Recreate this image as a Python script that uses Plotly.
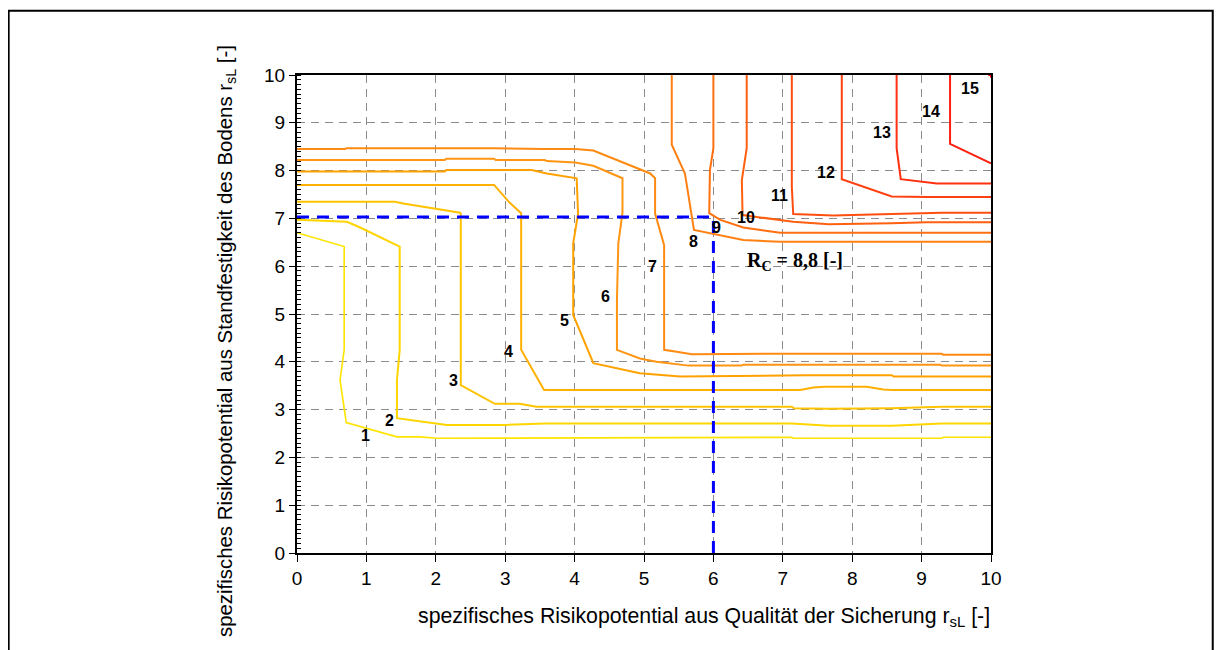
import plotly.graph_objects as go

# ---------------- data ----------------
levels = [1, 2, 3, 4, 5, 6, 7, 8, 9, 10, 11, 12, 13, 14, 15]
level_colors = ["#FFE400", "#FFD500", "#FFC300", "#FFB000", "#FFA200", "#FF9512",
                "#FF8A12", "#FF8012", "#FF7010", "#FF6010", "#FF4E10", "#FF4010",
                "#FF3010", "#FF2010", "#FF1000"]

c1_x = [0.0, 0.68, 0.68, 0.68, 0.62, 0.71, 1.44, 1.78, 2.01, 3.57, 7.13, 7.15, 9.29, 9.31, 10.0]
c1_y = [6.70, 6.41, 5.29, 4.25, 3.62, 2.73, 2.43, 2.43, 2.40, 2.41, 2.42, 2.40, 2.40, 2.42, 2.42]

c2_x = [0.0, 0.72, 0.91, 1.48, 1.48, 1.44, 1.44, 2.16, 3.02, 3.57, 7.13, 7.66, 8.57, 9.29, 10.0]
c2_y = [6.97, 6.93, 6.81, 6.41, 4.25, 3.62, 2.82, 2.68, 2.68, 2.71, 2.71, 2.66, 2.66, 2.71, 2.71]

c3_x = [0.0, 1.41, 1.53, 2.35, 2.36, 2.36, 2.85, 3.21, 3.45, 7.13, 7.16, 7.66, 8.57, 9.29, 10.0]
c3_y = [7.35, 7.35, 7.31, 7.12, 7.10, 3.51, 3.12, 3.12, 3.06, 3.06, 3.03, 3.02, 3.03, 3.06, 3.06]

c4_x = [0.0, 2.84, 3.05, 3.23, 3.23, 3.56, 7.25, 7.44, 7.60, 8.21, 8.45, 8.57, 10.0]
c4_y = [7.70, 7.70, 7.35, 7.11, 4.25, 3.41, 3.41, 3.46, 3.48, 3.48, 3.42, 3.41, 3.41]

c5_x = [0.0, 2.13, 2.15, 3.38, 3.60, 4.03, 4.05, 3.98, 3.98, 3.98, 4.27, 4.94, 5.52, 7.34, 8.57, 8.60, 10.0]
c5_y = [7.98, 7.98, 8.01, 8.01, 7.94, 7.84, 7.10, 6.48, 5.29, 4.98, 3.97, 3.76, 3.69, 3.72, 3.72, 3.69, 3.69]

c6_x = [0.0, 2.13, 2.15, 2.84, 2.86, 3.57, 3.60, 4.01, 4.27, 4.69, 4.69, 4.63, 4.61, 4.61, 4.94, 5.18, 5.64, 6.41, 6.43, 9.27, 9.29, 10.0]
c6_y = [8.22, 8.22, 8.25, 8.25, 8.22, 8.22, 8.20, 8.17, 8.10, 7.84, 7.12, 6.48, 5.29, 4.25, 4.07, 4.00, 3.92, 3.92, 3.94, 3.94, 3.92, 3.92]

c7_x = [0.0, 0.69, 0.71, 2.82, 3.57, 4.01, 4.27, 5.09, 5.16, 5.16, 5.29, 5.29, 5.29, 5.47, 5.69, 7.13, 9.29, 9.31, 10.0]
c7_y = [8.45, 8.45, 8.47, 8.47, 8.45, 8.45, 8.42, 7.94, 7.84, 7.10, 6.44, 5.29, 4.25, 4.21, 4.16, 4.17, 4.17, 4.15, 4.15]

c8_x = [5.40, 5.40, 5.59, 5.69, 5.72, 6.43, 6.96, 10.0]
c8_y = [10.0, 8.54, 7.94, 6.97, 6.76, 6.55, 6.51, 6.51]

c9_x = [6.00, 6.00, 5.95, 5.94, 6.10, 6.43, 6.96, 10.0]
c9_y = [10.0, 8.47, 8.01, 7.11, 6.97, 6.81, 6.70, 6.70]

c10_x = [6.48, 6.48, 6.41, 6.42, 7.15, 7.66, 8.57, 9.07, 10.0]
c10_y = [10.0, 8.47, 7.80, 7.07, 6.93, 6.88, 6.90, 6.92, 6.92]

c11_x = [7.13, 7.13, 7.15, 7.73, 8.00, 8.57, 9.29, 10.0]
c11_y = [10.0, 7.66, 7.09, 7.06, 7.07, 7.09, 7.12, 7.12]

c12_x = [7.85, 7.85, 8.57, 9.10, 10.0]
c12_y = [10.0, 7.82, 7.46, 7.45, 7.45]

c13_x = [8.64, 8.64, 8.70, 9.22, 10.0]
c13_y = [10.0, 8.47, 7.82, 7.73, 7.73]

c14_x = [9.41, 9.41, 10.0]
c14_y = [10.0, 8.56, 8.15]

c15_x = [9.96, 10.0, 10.0]
c15_y = [10.0, 10.0, 9.94]

contour_x = [c1_x, c2_x, c3_x, c4_x, c5_x, c6_x, c7_x, c8_x, c9_x, c10_x, c11_x, c12_x, c13_x, c14_x, c15_x]
contour_y = [c1_y, c2_y, c3_y, c4_y, c5_y, c6_y, c7_y, c8_y, c9_y, c10_y, c11_y, c12_y, c13_y, c14_y, c15_y]

label_x = [0.98, 1.33, 2.25, 3.05, 3.86, 4.44, 5.12, 5.71, 6.04, 6.47, 6.95, 7.62, 8.43, 9.14, 9.70]
label_y = [2.45, 2.78, 3.60, 4.21, 4.87, 5.36, 6.00, 6.51, 6.80, 7.01, 7.47, 7.97, 8.79, 9.23, 9.71]

rc_point_x = 6.0
rc_point_y = 7.03
rc_text = "R<sub>C</sub> = 8,8 [-]"
rc_text_x = 6.46
rc_text_y = 6.10

tick_vals = [0, 1, 2, 3, 4, 5, 6, 7, 8, 9, 10]
x_title = "spezifisches Risikopotential aus Qualität der Sicherung r<sub>sL</sub> [-]"
y_title = "spezifisches Risikopotential aus Standfestigkeit des Bodens r<sub>sL</sub> [-]"

# ---------------- figure ----------------
FONT = "Arial, Liberation Sans, sans-serif"
fig = go.Figure()

for lv, col, xs, ys in zip(levels, level_colors, contour_x, contour_y):
    fig.add_trace(go.Scatter(x=xs, y=ys, mode="lines",
                             line=dict(color=col, width=2 if lv > 1 else 1.6),
                             hoverinfo="skip", showlegend=False))

# reading lines for R_C
fig.add_trace(go.Scatter(x=[0, rc_point_x], y=[rc_point_y, rc_point_y], mode="lines",
                         line=dict(color="#0000FF", width=3, dash="12px,8px"),
                         showlegend=False, hoverinfo="skip"))
fig.add_trace(go.Scatter(x=[rc_point_x, rc_point_x], y=[0, rc_point_y], mode="lines",
                         line=dict(color="#0000FF", width=3, dash="12px,8px"),
                         showlegend=False, hoverinfo="skip"))

for lv, lx, ly in zip(levels, label_x, label_y):
    fig.add_annotation(x=lx, y=ly, text="<b>%d</b>" % lv, showarrow=False,
                       font=dict(family=FONT, size=16, color="black"),
                       xanchor="center", yanchor="middle")

fig.add_annotation(x=rc_text_x, y=rc_text_y, text="<b>" + rc_text + "</b>", showarrow=False,
                   font=dict(family="Times New Roman, Liberation Serif, serif", size=20, color="black"),
                   xanchor="left", yanchor="middle")

# axis titles (placed as in the reference)
fig.add_annotation(xref="paper", yref="paper", x=0.587, y=-0.134, text=x_title,
                   showarrow=False, xanchor="center", yanchor="middle",
                   font=dict(family=FONT, size=21.3, color="black"))
fig.add_annotation(xref="paper", yref="paper", x=-0.1023, y=0.4435, text=y_title,
                   showarrow=False, xanchor="center", yanchor="middle", textangle=-90,
                   font=dict(family=FONT, size=20.4, color="black"))

# outer frame of the picture
fig.add_shape(type="rect", xref="paper", yref="paper",
              x0=-0.4155, x1=1.3195, y0=-0.3, y1=1.1345,
              line=dict(color="black", width=2), fillcolor="rgba(0,0,0,0)", layer="below")

fig.update_xaxes(range=[0, 10], tickvals=tick_vals, ticks="outside", ticklen=7,
                 tickcolor="black", tickwidth=1,
                 showline=True, linecolor="black", linewidth=2, mirror=True,
                 showgrid=True, gridcolor="#8c8c8c", gridwidth=1, griddash="8px,6px",
                 zeroline=False,
                 tickfont=dict(family=FONT, size=19, color="black"))
fig.update_yaxes(range=[0, 10], tickvals=tick_vals, ticks="outside", ticklen=6,
                 tickcolor="black", tickwidth=1,
                 minor=dict(dtick=0.1, ticks="inside", ticklen=4, tickcolor="black", showgrid=False),
                 showline=True, linecolor="black", linewidth=2, mirror=True,
                 showgrid=True, gridcolor="#8c8c8c", gridwidth=1, griddash="8px,6px",
                 zeroline=False,
                 tickfont=dict(family=FONT, size=19, color="black"))

fig.update_layout(width=1223, height=650,
                  margin=dict(l=289, r=240, t=67, b=105, autoexpand=False),
                  paper_bgcolor="white", plot_bgcolor="white",
                  showlegend=False)

fig.write_html("out.html")
